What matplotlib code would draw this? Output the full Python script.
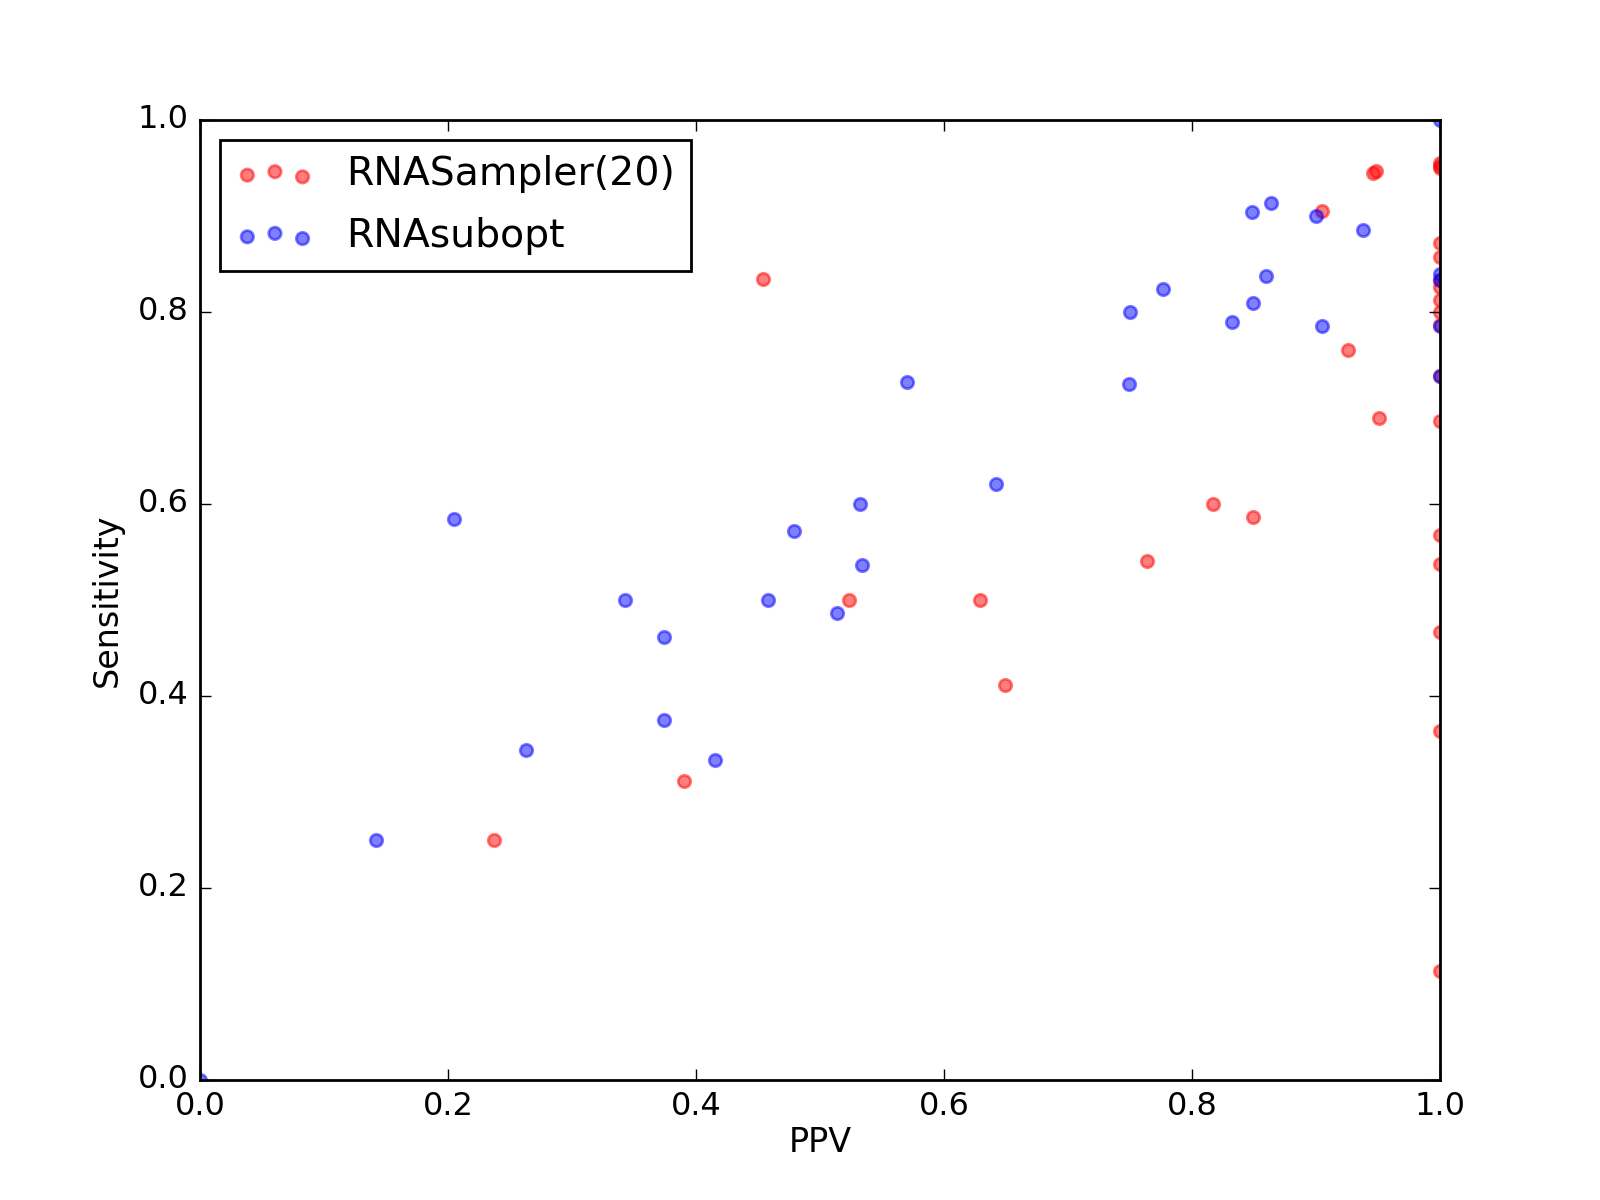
import numpy as np
import matplotlib
matplotlib.use("Agg")
import matplotlib.pyplot as plt

# RNASampler(20) の点 (PPV, Sensitivity)
sampler_ppv = [0.946, 0.948, 0.905, 0.454, 0.926, 0.951, 0.817, 0.849, 0.764,
               0.523, 0.629, 0.649, 0.390, 0.237,
               1.0, 1.0, 1.0, 1.0, 1.0, 1.0, 1.0, 1.0, 1.0, 1.0,
               1.0, 1.0, 1.0, 1.0, 1.0, 1.0, 1.0]
sampler_sens = [0.945, 0.947, 0.905, 0.834, 0.760, 0.690, 0.600, 0.586, 0.541,
                0.500, 0.500, 0.411, 0.311, 0.250,
                0.955, 0.952, 0.950, 0.872, 0.857, 0.833, 0.826, 0.8125, 0.800,
                0.786, 0.733, 0.686, 0.568, 0.538, 0.467, 0.364, 0.114]

# RNAsubopt の点
subopt_ppv = [0.864, 0.848, 0.900, 0.938, 0.860, 0.777, 0.849, 0.750, 0.832,
              0.905, 0.570, 0.749, 0.642, 0.532, 0.205, 0.479, 0.534, 0.343,
              0.458, 0.514, 0.374, 0.374, 0.2625, 0.4156, 0.1416, 0.0,
              1.0, 1.0, 1.0, 1.0, 1.0]
subopt_sens = [0.914, 0.904, 0.900, 0.885, 0.838, 0.824, 0.809, 0.800, 0.790,
               0.785, 0.727, 0.725, 0.621, 0.600, 0.584, 0.572, 0.536, 0.500,
               0.500, 0.486, 0.461, 0.375, 0.344, 0.333, 0.250, 0.0,
               1.0, 0.840, 0.833, 0.785, 0.733]

plt.style.use("classic")
fig, ax = plt.subplots(figsize=(8, 6), dpi=200)
fig.patch.set_facecolor("white")

ax.scatter(sampler_ppv, sampler_sens, s=20, c="r", edgecolors="r",
           alpha=0.5, label="RNASampler(20)")
ax.scatter(subopt_ppv, subopt_sens, s=20, c="b", edgecolors="b",
           alpha=0.5, label="RNAsubopt")

ax.set_xlim(0, 1)
ax.set_ylim(0, 1)
ax.tick_params(labelsize=11.5)
ax.set_xlabel("PPV", labelpad=1.5)
ax.set_ylabel("Sensitivity")
ax.legend(loc="upper left", fontsize=14.2, scatterpoints=3, labelspacing=0.6)

fig.savefig("out.png", dpi=200, facecolor="white")
